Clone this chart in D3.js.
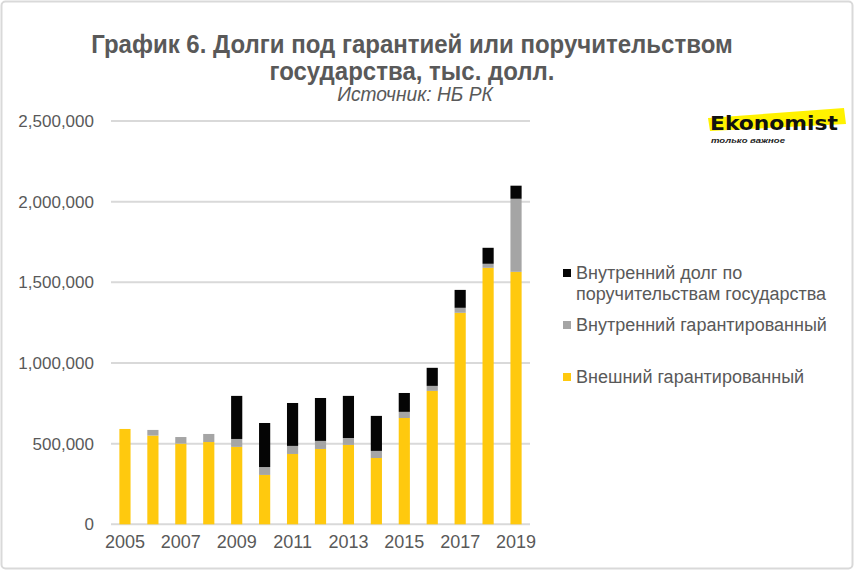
<!DOCTYPE html>
<html><head><meta charset="utf-8">
<script src="https://cdn.jsdelivr.net/npm/d3@7"></script>
<style>
body{margin:0;background:#fff;}
svg{display:block;}
</style></head>
<body>
<svg id="chart" width="854" height="570"></svg>
<script>
const years = ["2005","2006","2007","2008","2009","2010","2011","2012","2013","2014","2015","2016","2017","2018","2019"];
const external = [591000,550000,500000,510000,480000,306000,436000,467000,492000,411000,659000,827000,1311000,1590000,1565000];
const domesticGuaranteed = [0,35000,41000,50000,49000,49000,50000,50000,43000,44000,38000,31000,31000,25000,453000];
const domesticSurety = [0,0,0,0,267000,273000,266000,266000,261000,217000,117000,112000,111000,99000,81000];
const yTicks = [0,500000,1000000,1500000,2000000,2500000];
const xTickLabels = ["2005","2007","2009","2011","2013","2015","2017","2019"];
const seriesNames = ["Внешний гарантированный","Внутренний гарантированный","Внутренний долг по поручительствам государства"];
const colors = ["#ffc90e","#a5a5a5","#050505"];

const svg = d3.select("#chart");
const textColor = "#595959";
const font = "'Liberation Sans', Arial, sans-serif";

// outer border
svg.append("rect").attr("x",1.5).attr("y",1.5).attr("width",851).attr("height",567)
  .attr("rx",4).attr("fill","#fff").attr("stroke","#d9d9d9").attr("stroke-width",2);

const x = d3.scaleBand().domain(years).range([111,530]).paddingInner(0.6).paddingOuter(0.3);
const y = d3.scaleLinear().domain([0,2500000]).range([524.3,121]);

// grid
svg.append("g").selectAll("line").data(yTicks).join("line")
  .attr("x1",111).attr("x2",530).attr("y1",d=>y(d)).attr("y2",d=>y(d))
  .attr("stroke","#d9d9d9").attr("stroke-width",2);

// y axis labels
const yAxis = d3.axisLeft(y).tickValues(yTicks).tickSize(0).tickPadding(0)
  .tickFormat(d3.format(","));
const gy = svg.append("g").attr("transform","translate(94,0)").call(yAxis);
gy.select(".domain").remove();
gy.selectAll("text").attr("font-family",font).attr("font-size",17).attr("fill",textColor);

// x axis labels
const xAxis = d3.axisBottom(x).tickValues(xTickLabels).tickSize(0).tickPadding(0);
const gx = svg.append("g").attr("transform","translate(0,535)").call(xAxis);
gx.select(".domain").remove();
gx.selectAll("text").attr("font-family",font).attr("font-size",18).attr("fill",textColor);

// stacked bars
const table = years.map((yr,i)=>({year:yr, s0:external[i], s1:domesticGuaranteed[i], s2:domesticSurety[i]}));
const stack = d3.stack().keys(["s0","s1","s2"])(table);
svg.append("g").selectAll("g").data(stack).join("g").attr("fill",(d,i)=>colors[i])
  .selectAll("rect").data(d=>d).join("rect")
  .attr("x",d=>x(d.data.year)).attr("width",x.bandwidth())
  .attr("y",d=>y(d[1])).attr("height",d=>Math.max(0,y(d[0])-y(d[1])));

// title
const title = svg.append("g").attr("font-family",font).attr("text-anchor","middle").attr("fill",textColor);
const t1 = title.append("text").attr("x",412).attr("y",53).attr("font-size",25).attr("font-weight","bold")
  .text("График 6. Долги под гарантией или поручительством");
const t2 = title.append("text").attr("x",412).attr("y",80).attr("font-size",25).attr("font-weight","bold")
  .text("государства, тыс. долл.");
const t3 = title.append("text").attr("x",415).attr("y",101).attr("font-size",20).attr("font-style","italic")
  .text("Источник: НБ РК");
[t1,t2,t3].forEach(t=>{
  const L = t.node().getComputedTextLength();
  t.attr("textLength", L*0.96).attr("lengthAdjust","spacingAndGlyphs");
});

// legend
const legendItems = [
  {c:colors[2], lines:["Внутренний долг по","поручительствам государства"], y:273},
  {c:colors[1], lines:["Внутренний гарантированный"], y:325},
  {c:colors[0], lines:["Внешний гарантированный"], y:377}
];
const lg = svg.append("g").attr("font-family",font).attr("font-size",18).attr("fill",textColor);
legendItems.forEach(it=>{
  lg.append("rect").attr("x",563).attr("y",it.y-4).attr("width",8).attr("height",8).attr("fill",it.c);
  it.lines.forEach((l,j)=>{
    lg.append("text").attr("x",576).attr("y",it.y+j*21).attr("dy","0.35em").text(l);
  });
});

// logo
const logo = svg.append("g");
logo.append("path").attr("d","M708,118 L844,108 L846,124 L710,131 Z").attr("fill","#fff200");
logo.append("text").attr("x",710).attr("y",130).attr("font-family","'DejaVu Sans', sans-serif")
  .attr("font-weight","bold").attr("font-size",19).attr("fill","#111").attr("textLength",128)
  .attr("lengthAdjust","spacingAndGlyphs").text("Ekonomist");
logo.append("text").attr("x",711).attr("y",143).attr("font-family",font)
  .attr("font-style","italic").attr("font-weight","bold").attr("font-size",8).attr("fill","#222")
  .attr("textLength",74).attr("lengthAdjust","spacingAndGlyphs").text("только важное");
</script>
</body></html>
